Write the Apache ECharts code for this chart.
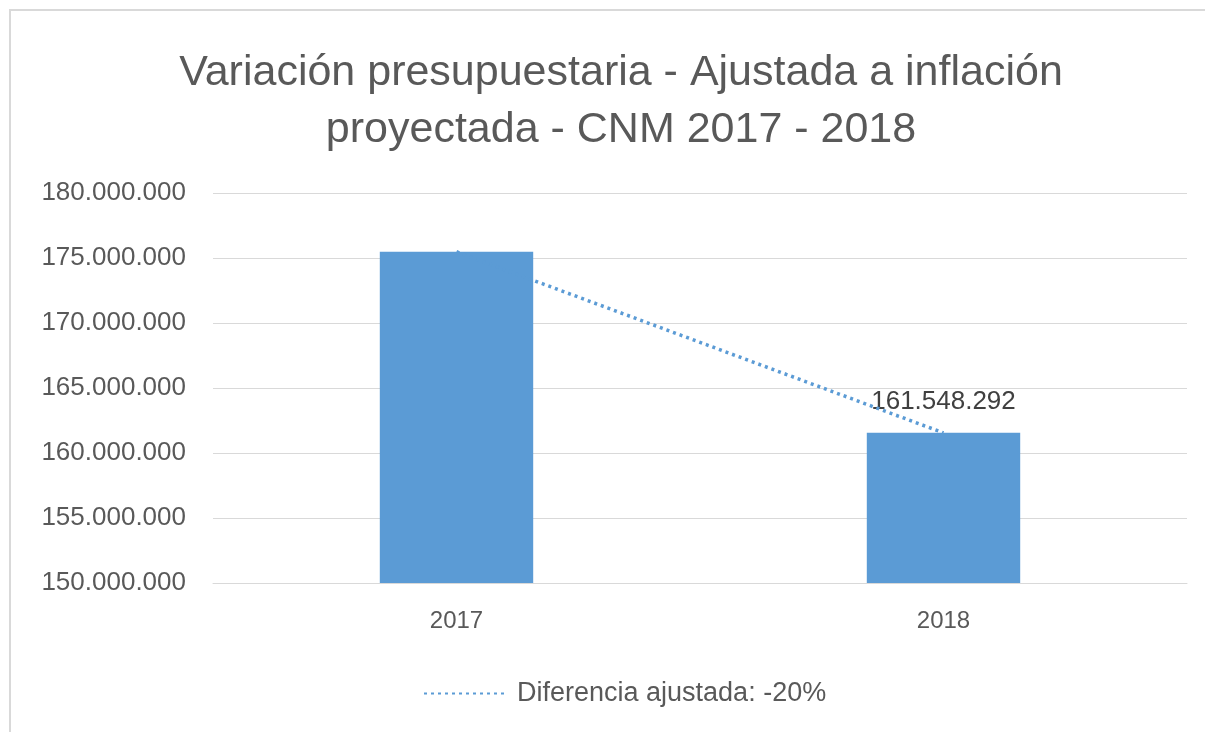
<!DOCTYPE html>
<html>
<head>
<meta charset="utf-8">
<script src="https://cdn.jsdelivr.net/npm/echarts@6/dist/echarts.min.js"></script>
<style>
html,body{margin:0;padding:0;background:#fff;}
#chart{width:1205px;height:732px;}
</style>
</head>
<body>
<div id="chart"></div>
<script>
var titleText = 'Variación presupuestaria - Ajustada a inflación\nproyectada - CNM 2017 - 2018';
var categories = ['2017', '2018'];
var budgetValues = [175480000, 161548292];
var trendValues = [175480000, 161548292];
var trendName = 'Diferencia ajustada: -20%';
var labeledIndex = 1;

function fmt(v) {
  return String(Math.round(v)).replace(/\B(?=(\d{3})+(?!\d))/g, '.');
}

var chart = echarts.init(document.getElementById('chart'), null, {renderer: 'canvas'});
var font = '"Liberation Sans", Arial, sans-serif';
chart.setOption({
  backgroundColor: '#ffffff',
  animation: false,
  graphic: [{
    type: 'rect',
    shape: {x: 10, y: 10, width: 1400, height: 900},
    style: {fill: 'none', stroke: '#d9d9d9', lineWidth: 2},
    silent: true,
    z: -1
  }],
  title: {
    text: titleText,
    left: 616,
    textAlign: 'center',
    top: 40,
    textStyle: {
      fontFamily: font,
      fontSize: 43,
      fontWeight: 'normal',
      color: '#595959',
      lineHeight: 57
    }
  },
  legend: {
    data: [{name: trendName, itemStyle: {opacity: 0}}],
    left: 418,
    top: 675,
    itemWidth: 82,
    itemHeight: 4,
    itemGap: 10,
    textStyle: {fontFamily: font, fontSize: 27, color: '#595959', padding: [0, 0, 0, 6]}
  },
  grid: {left: 213, right: 18, top: 193, bottom: 149, containLabel: false},
  xAxis: {
    type: 'category',
    data: categories,
    axisTick: {show: false},
    axisLine: {show: true, lineStyle: {color: '#d9d9d9', width: 1}},
    axisLabel: {fontFamily: font, fontSize: 24, color: '#595959', margin: 26}
  },
  yAxis: {
    type: 'value',
    min: 150000000,
    max: 180000000,
    interval: 5000000,
    axisLine: {show: false},
    axisTick: {show: false},
    splitLine: {lineStyle: {color: '#d9d9d9', width: 1}},
    axisLabel: {
      fontFamily: font, fontSize: 26, color: '#595959', margin: 27,
      formatter: function (v) { return fmt(v); }
    }
  },
  series: [
    {
      name: 'Presupuesto',
      type: 'bar',
      data: budgetValues,
      barWidth: '31.5%',
      itemStyle: {color: '#5b9bd5'},
      label: {
        show: true,
        position: 'top',
        distance: 18,
        fontFamily: font,
        fontSize: 26,
        color: '#404040',
        formatter: function (p) { return p.dataIndex === labeledIndex ? fmt(p.value) : ''; }
      },
      z: 2
    },
    {
      name: trendName,
      type: 'line',
      data: trendValues,
      symbol: 'none',
      lineStyle: {color: '#5b9bd5', width: 3.5, type: [3, 4]},
      itemStyle: {color: '#5b9bd5'},
      z: 3
    }
  ]
});
</script>
</body>
</html>
